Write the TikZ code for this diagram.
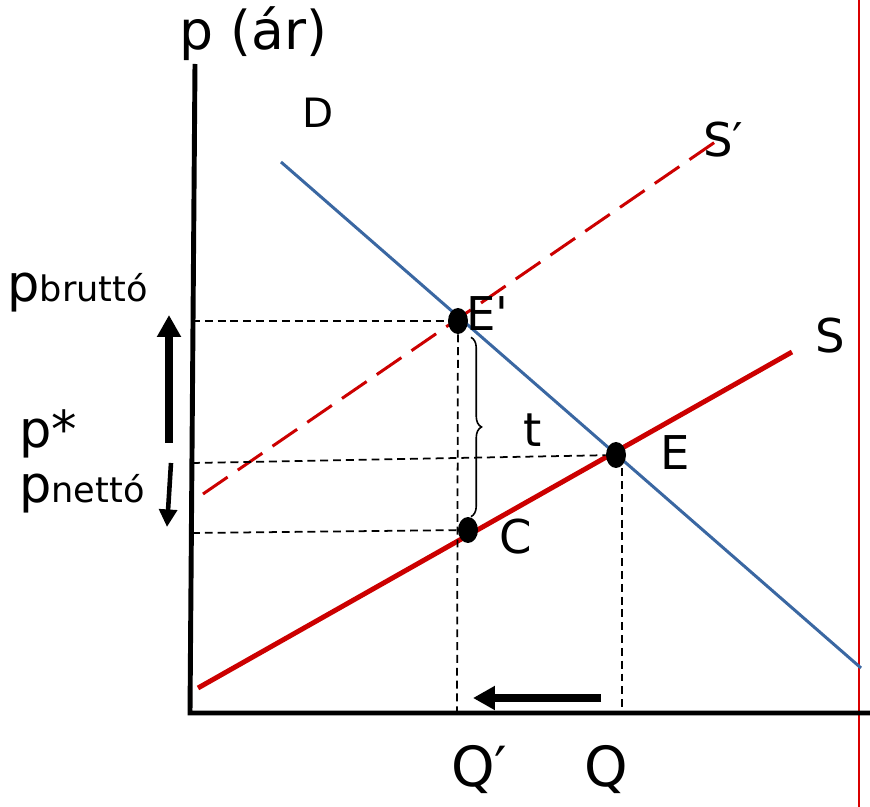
\documentclass[tikz,border=0pt]{standalone}
\usepackage{fontspec}
\setmainfont{DejaVu Sans}
\usetikzlibrary{arrows.meta,positioning,shapes.geometric,decorations.pathreplacing}
\definecolor{demandblue}{HTML}{3A67A2}
\definecolor{supplyred}{HTML}{CC0000}
\newcommand{\bigtxt}{\fontsize{26.5}{31}\selectfont}
\newcommand{\subtxt}{\fontsize{20}{24}\selectfont}
\newcommand{\ptxt}{\fontsize{29}{34}\selectfont}
\tikzset{
 axis line/.style={line width=2.8pt,draw=black},
 demand line/.style={draw=demandblue,line width=1.7pt},
 supply line/.style={draw=supplyred,line width=2.8pt},
 tax line/.style={draw=supplyred,line width=1.7pt,dash pattern=on 17pt off 7pt},
 guide/.style={draw=black,line width=1pt,dash pattern=on 4.5pt off 2.8pt},
 eq dot/.style={ellipse,fill=black,inner sep=0pt,minimum width=4mm,minimum height=5.2mm},
 lbl/.style={anchor=base west,inner sep=0pt,font=\bigtxt},
 shift arrow/.style={draw=black,-{Triangle[length=12.5pt,width=13pt]},line width=4.2pt}
}
\begin{document}
\begin{tikzpicture}[x=0.02cm,y=-0.02cm]
\useasboundingbox[fill=white] (0,0) rectangle (870,807);
% border line on the right
\draw[red!85!black,line width=1.1pt] (859,0) -- (859,807);
% axes
\draw[axis line] (195,64) -- (190,713) -- (870,713);
\node[lbl,font=\fontsize{30.5}{36}\selectfont] (pt) at (179,50) {p (ár)};
% demand and supply
\draw[demand line] (281,162) -- (861,668);
\draw[supply line] (198,688) -- (792,352);
\draw[tax line] (203,494) -- (718,140);
\node[lbl,font=\fontsize{23}{27}\selectfont] (dl) at (302,128) {D};
\node[lbl] (sl) at (703,157) {S′};
\node[lbl] (ssl) at (815,353) {S};
% equilibria
\node[eq dot] (Eb) at (458,321) {};
\node[eq dot] (E) at (616,455) {};
\node[eq dot] (C) at (468,530) {};
\node[lbl] (Ebl) at (466,331) {E\textquotesingle};
\node[lbl] (El) at (660,470) {E};
\node[lbl] (Cl) at (499,554) {C};
\node[lbl] (tl) at (523,447) {t};
% guides
\coordinate (pb) at (192,321);
\coordinate (pn) at (192,463);
\coordinate (pc) at (192,533);
\coordinate (qb) at (457,713);
\coordinate (q) at (622,713);
\draw[guide] (pb) -- (Eb);
\draw[guide] (pn) -- (E);
\draw[guide] (pc) -- (C);
\draw[guide] (Eb) -- (qb);
\draw[guide] (E.south -| q) -- (q);
\draw[line width=0.9pt,decorate,decoration={brace,amplitude=0.21cm}]
 ([xshift=0.26cm,yshift=-0.06cm]Eb.south) -- ([xshift=0.06cm]C.north);
% price labels
\node[lbl] (pbr) at (7,302) {\ptxt p\subtxt bruttó};
\node[lbl] (pst) at (19,448) {\ptxt p*};
\node[lbl] (pne) at (19,503) {\ptxt p\subtxt nettó};
% shifts
\coordinate (ua) at (169,443);
\coordinate (ub) at (169,315);
\coordinate (da) at (171,463);
\coordinate (db) at (167,527);
\coordinate (la) at (601,698);
\coordinate (lb) at (473,698);
\draw[shift arrow] (ua) -- (ub);
\draw[shift arrow,line width=2.6pt,-{Triangle[length=10pt,width=10pt]}] (da) -- (db);
\draw[shift arrow,line width=4pt] (la) -- (lb);
% quantity labels
\node[lbl,font=\fontsize{31.5}{37}\selectfont] (qbl) at (451,787) {Q′};
\node[lbl,font=\fontsize{31.5}{37}\selectfont] (ql) at (584,787) {Q};
\end{tikzpicture}
\end{document}
